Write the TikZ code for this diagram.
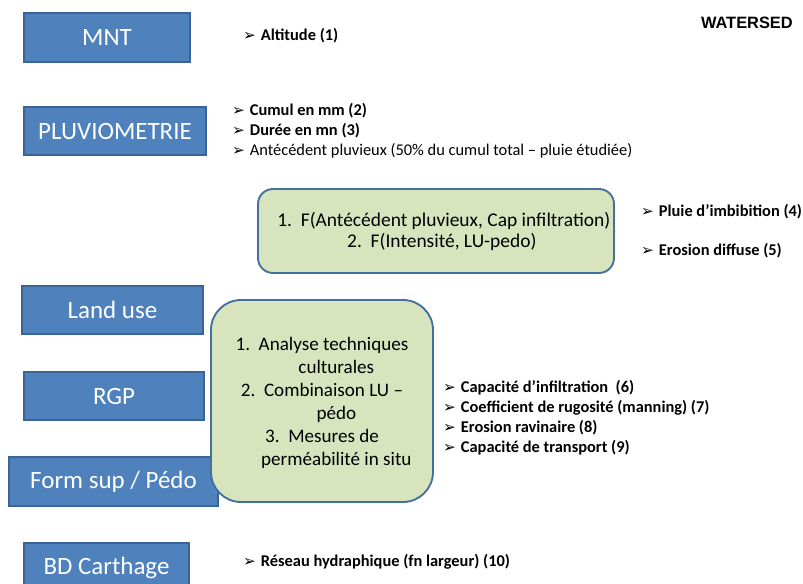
\documentclass[tikz,border=0pt]{standalone}
\usepackage{fontspec}
\usepackage{xcolor}
\usepackage{tikz}
\usetikzlibrary{positioning}
\setmainfont{Carlito}
\newfontfamily\symfont{DejaVu Sans}
\newfontfamily\headfont{Liberation Sans}

\definecolor{boxblue}{HTML}{4F81BD}
\definecolor{boxedge}{HTML}{3A6396}
\definecolor{procfill}{HTML}{D7E4BD}
\definecolor{procedge}{HTML}{41719C}

\newcommand{\bul}{{\symfont\fontsize{13}{14}\selectfont ➢}\hspace{0.3em}}

\tikzset{
  databox/.style={draw=boxedge, fill=boxblue, line width=1pt, text=white,
    inner sep=0pt, font=\fontsize{21.3}{24}\selectfont},
  procbox/.style={draw=procedge, fill=procfill, line width=1.6pt,
    inner sep=0pt, align=center},
  itemlist/.style={anchor=west, inner sep=0pt, align=left,
    font=\fontsize{14}{17}\selectfont}
}

\begin{document}
\begin{tikzpicture}[x=0.03cm, y=-0.03cm]
  \clip (0,0) rectangle (803,584);
  \useasboundingbox (0,0) rectangle (803,584);

  % input data
  \node[databox, minimum width=4.98cm, minimum height=1.47cm] (mnt) at (107,37.5) {MNT};
  \node[databox, minimum width=5.46cm, minimum height=1.44cm] (pluvio) at (115,131) {PLUVIOMETRIE};
  \node[databox, minimum width=5.43cm, minimum height=1.44cm] (landuse) at (112.5,310) {Land use};
  \node[databox, minimum width=5.40cm, minimum height=1.44cm] (rgp) at (114,396) {RGP};
  \node[databox, minimum width=6.27cm, minimum height=1.47cm] (formsup) at (113.5,481.5) {Form sup / Pédo};
  \node[databox, minimum width=4.95cm, minimum height=1.47cm] (bdcarth) at (106.5,567.5) {BD Carthage};

  % processing steps
  \node[procbox, rounded corners=0.45cm, minimum width=10.68cm, minimum height=2.52cm,
        font=\fontsize{16.6}{18}\selectfont] (pluieproc) at (436,231)
    {\hspace*{0.8em}1.\ \ F(Antécédent pluvieux, Cap infiltration)\\
     \hspace*{0.6em}2.\ \ F(Intensité, LU-pedo)};
  \node[procbox, rounded corners=0.9cm, minimum width=6.66cm, minimum height=6.06cm,
        font=\fontsize{16.3}{19.6}\selectfont] (soilproc) at (322,401)
    {\rule{0pt}{1.6ex}\\[-1.1em]
     1.\ \ Analyse techniques\\
     \hspace*{1.5em}culturales\\
     2.\ \ Combinaison LU --\\
     \hspace*{1.5em}pédo\\
     3.\ \ Mesures de\\
     \hspace*{1.5em}perméabilité\ in situ};

  % outputs
  \node[font=\headfont\bfseries\fontsize{14}{16}\selectfont, anchor=east, inner sep=0pt] (title) at (793,23) {WATERSED};
  \node[itemlist] (altitude) at (243,36) {\bul\textbf{Altitude (1)}};
  \node[itemlist] (pluvioout) at (232,131)
    {\bul\textbf{Cumul en mm (2)}\\
     \bul\textbf{Durée en mn (3)}\\
     \bul Antécédent pluvieux (50\% du cumul total -- pluie étudiée)};
  \node[itemlist] (imbib) at (641,212) {\bul\textbf{Pluie d’imbibition (4)}};
  \node[itemlist] (diffuse) at (641,251) {\bul\textbf{Erosion diffuse (5)}};
  \node[itemlist] (soilout) at (443,418)
    {\bul\textbf{Capacité d’infiltration\ \ (6)}\\
     \bul\textbf{Coefficient de rugosité (manning) (7)}\\
     \bul\textbf{Erosion ravinaire (8)}\\
     \bul\textbf{Capacité de transport (9)}};
  \node[itemlist] (reseau) at (243,562) {\bul\textbf{Réseau hydraphique (fn largeur) (10)}};
\end{tikzpicture}
\end{document}
